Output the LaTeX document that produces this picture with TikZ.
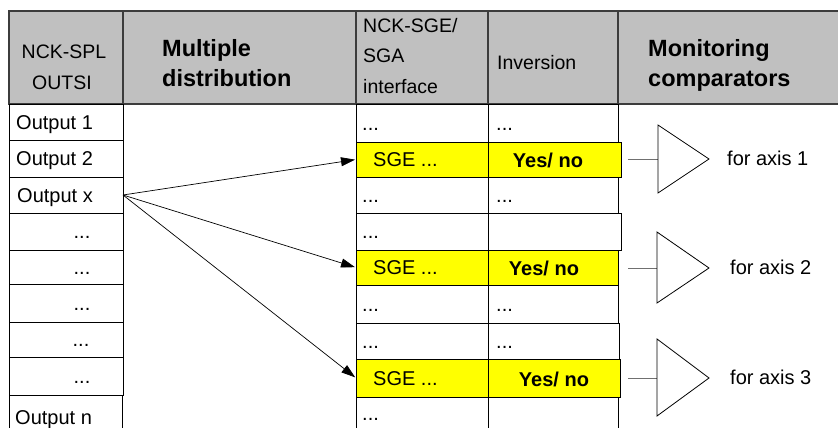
\documentclass[tikz,border=0pt]{standalone}
\usepackage{fontspec}
\setmainfont{Liberation Sans}
\usetikzlibrary{arrows.meta}
\definecolor{hdrgray}{HTML}{C0C0C0}
\definecolor{hdrline}{HTML}{3C3C3C}
\definecolor{yel}{HTML}{FFFF00}
\definecolor{stub}{HTML}{707070}
\begin{document}
\begin{tikzpicture}[x=1pt,y=-1pt,
  hcell/.style={draw=hdrline, fill=hdrgray, line width=1.1pt, inner sep=0pt, outer sep=0pt, anchor=north west},
  cell/.style={draw=black, line width=0.8pt, fill=white, inner sep=0pt, outer sep=0pt, anchor=north west},
  ycell/.style={cell, fill=yel},
  txt/.style={font=\fontsize{20}{24}\selectfont, inner sep=0pt},
  htxt/.style={font=\fontsize{19.5}{23}\selectfont, inner sep=0pt},
  hbtxt/.style={font=\bfseries\fontsize{23.5}{27}\selectfont, inner sep=0pt},
  btxt/.style={font=\bfseries\fontsize{20}{24}\selectfont, inner sep=0pt},
  arr/.style={-{Triangle[length=14pt,width=9pt]}, line width=0.7pt, shorten >=1pt},
  comp/.style={draw=black, line width=0.8pt, fill=white},
  stubline/.style={draw=stub, line width=0.9pt}
]
\useasboundingbox (0,0) rectangle (838,428);

% ---------- header ----------
\node[hcell, minimum width=114pt, minimum height=93pt] (H1) at (9,11) {};
\node[hcell, minimum width=233pt, minimum height=93pt] (H2) at (123,11) {};
\node[hcell, minimum width=132pt, minimum height=93pt] (H3) at (356,11) {};
\node[hcell, minimum width=130pt, minimum height=93pt] (H4) at (488,11) {};
\node[hcell, minimum width=230pt, minimum height=93pt] (H5) at (618,11) {};

\node[htxt, anchor=base] (h1a) at (64,59) {NCK-SPL};
\node[htxt, anchor=base] (h1b) at (62,89) {OUTSI};
\node[hbtxt, anchor=base west] (h2a) at (162,57) {Multiple};
\node[hbtxt, anchor=base west] (h2b) at (162,86) {distribution};
\node[htxt, anchor=base west] (h3a) at (363,33) {NCK-SGE/};
\node[htxt, anchor=base west] (h3b) at (363,63) {SGA};
\node[htxt, anchor=base west] (h3c) at (363,93) {interface};
\node[htxt, anchor=base west] (h4a) at (497,70) {Inversion};
\node[hbtxt, anchor=base west] (h5a) at (648,57) {Monitoring};
\node[hbtxt, anchor=base west] (h5b) at (648,86) {comparators};

% ---------- left column ----------
\node[cell, minimum width=114pt, minimum height=36pt] (L1) at (9,104) {};
\node[cell, minimum width=114pt, minimum height=37pt] (L2) at (9,140) {};
\node[cell, minimum width=114pt, minimum height=36pt] (L3) at (9,177) {};
\node[cell, minimum width=114pt, minimum height=37pt] (L4) at (9,213) {};
\node[cell, minimum width=114pt, minimum height=34pt] (L5) at (9,250) {};
\node[cell, minimum width=114pt, minimum height=38pt] (L6) at (9,284) {};
\node[cell, minimum width=114pt, minimum height=35pt] (L7) at (9,322) {};
\node[cell, minimum width=114pt, minimum height=38pt] (L8) at (9,357) {};
\node[cell, minimum width=113pt, minimum height=40pt] (L9) at (9,395) {};

\node[txt, anchor=base west] (tL1) at ([xshift=7pt,yshift=-7pt]L1.west) {Output 1};
\node[txt, anchor=base west] (tL2) at ([xshift=7pt,yshift=-7pt]L2.west) {Output 2};
\node[txt, anchor=base west] (tL3) at ([xshift=8pt,yshift=-7pt]L3.west) {Output x};
\node[txt, anchor=base] (tL4) at ([xshift=73pt,yshift=-7pt]L4.west) {...};
\node[txt, anchor=base] (tL5) at ([xshift=73pt,yshift=-7pt]L5.west) {...};
\node[txt, anchor=base] (tL6) at ([xshift=73pt,yshift=-7pt]L6.west) {...};
\node[txt, anchor=base] (tL7) at ([xshift=72pt,yshift=-7pt]L7.west) {...};
\node[txt, anchor=base] (tL8) at ([xshift=73pt,yshift=-7pt]L8.west) {...};
\node[txt, anchor=base west] (tL9) at (15,424) {Output n};

% ---------- SGE / SGA interface column ----------
\node[cell, minimum width=132pt, minimum height=38pt] (S1) at (356,104) {};
\node[cell, minimum width=132pt, minimum height=36pt] (S3) at (356,177) {};
\node[cell, minimum width=132pt, minimum height=37pt] (S4) at (356,213) {};
\node[cell, minimum width=132pt, minimum height=38pt] (S6) at (356,285) {};
\node[cell, minimum width=132pt, minimum height=36pt] (S7) at (356,323) {};
\node[cell, minimum width=132pt, minimum height=40pt] (S9) at (356,397) {};

% ---------- inversion column ----------
\node[cell, minimum width=130pt, minimum height=38pt] (I1) at (488,104) {};
\node[cell, minimum width=130pt, minimum height=36pt] (I3) at (488,177) {};
\node[cell, minimum width=133pt, minimum height=37pt] (I4) at (488,213) {};
\node[cell, minimum width=130pt, minimum height=38pt] (I6) at (488,285) {};
\node[cell, minimum width=131pt, minimum height=36pt] (I7) at (488,323) {};
\node[cell, minimum width=130pt, minimum height=40pt] (I9) at (488,397) {};

% yellow rows
\node[ycell, minimum width=132pt, minimum height=35pt] (S2) at (356,142) {};
\node[ycell, minimum width=132pt, minimum height=35pt] (S5) at (356,250) {};
\node[ycell, minimum width=132pt, minimum height=38pt] (S8) at (356,359) {};
\node[ycell, minimum width=133pt, minimum height=35pt] (I2) at (488,142) {};
\node[ycell, minimum width=130pt, minimum height=35pt] (I5) at (488,250) {};
\node[ycell, minimum width=132pt, minimum height=38pt] (I8) at (488,359) {};

% texts in SGE column
\node[txt, anchor=base west] (tS1) at ([xshift=6pt,yshift=-7pt]S1.west) {...};
\node[txt, anchor=base west] (tS2) at ([xshift=17pt,yshift=-6.5pt]S2.west) {SGE ...};
\node[txt, anchor=base west] (tS3) at ([xshift=6pt,yshift=-7pt]S3.west) {...};
\node[txt, anchor=base west] (tS4) at ([xshift=6pt,yshift=-7pt]S4.west) {...};
\node[txt, anchor=base west] (tS5) at ([xshift=17pt,yshift=-6.5pt]S5.west) {SGE ...};
\node[txt, anchor=base west] (tS6) at ([xshift=6pt,yshift=-7pt]S6.west) {...};
\node[txt, anchor=base west] (tS7) at ([xshift=6pt,yshift=-7pt]S7.west) {...};
\node[txt, anchor=base west] (tS8) at ([xshift=17pt,yshift=-7pt]S8.west) {SGE ...};
\node[txt, anchor=base west] (tS9) at (362,420) {...};

% texts in inversion column
\node[txt, anchor=base west] (tI1) at ([xshift=8pt,yshift=-7pt]I1.west) {...};
\node[btxt, anchor=base] (tI2) at (548,167) {Yes/ no};
\node[txt, anchor=base west] (tI3) at ([xshift=8pt,yshift=-7pt]I3.west) {...};
\node[btxt, anchor=base] (tI5) at (544,275) {Yes/ no};
\node[txt, anchor=base west] (tI6) at ([xshift=8pt,yshift=-7pt]I6.west) {...};
\node[txt, anchor=base west] (tI7) at ([xshift=8pt,yshift=-7pt]I7.west) {...};
\node[btxt, anchor=base] (tI8) at (554,386) {Yes/ no};

% ---------- distribution arrows ----------
\draw[arr] (L3.east) -- (S2.west);
\draw[arr] (L3.east) -- (S5.west);
\draw[arr] (L3.east) -- (S8.west);

% ---------- monitoring comparators ----------
\coordinate (in1) at (628,159);
\coordinate (cb1) at (658,159);
\coordinate (in2) at (628,268);
\coordinate (cb2) at (657,268);
\coordinate (in3) at (628,378);
\coordinate (cb3) at (657,378);
\draw[stubline] (in1) -- (cb1);
\draw[stubline] (in2) -- (cb2);
\draw[stubline] (in3) -- (cb3);
\draw[comp] (658,125) -- (709,159) -- (658,193) -- cycle;
\draw[comp] (657,232) -- (709,268) -- (657,303) -- cycle;
\draw[comp] (657,339) -- (709,378) -- (657,416) -- cycle;

\node[txt, anchor=base west] (ax1) at (727,165) {for axis 1};
\node[txt, anchor=base west] (ax2) at (730,274) {for axis 2};
\node[txt, anchor=base west] (ax3) at (730,384) {for axis 3};
\end{tikzpicture}
\end{document}
